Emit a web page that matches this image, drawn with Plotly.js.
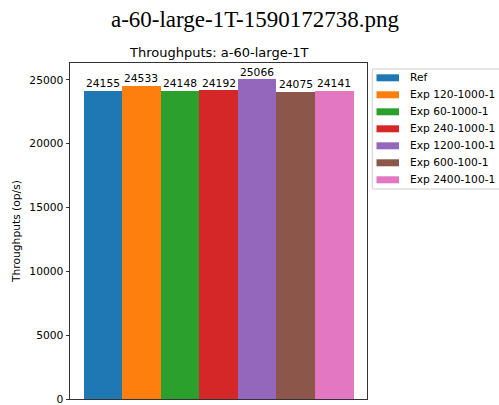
<!DOCTYPE html>
<html>
<head>
<meta charset="utf-8">
<script src="https://cdn.plot.ly/plotly-3.0.1.min.js"></script>
<style>
  html, body { margin: 0; padding: 0; background: #fff; }
  #chart { width: 499px; height: 405px; }
</style>
</head>
<body>
<div id="chart"></div>
<script>
// Throughput per run configuration
const seriesNames = ["Ref", "Exp 120-1000-1", "Exp 60-1000-1", "Exp 240-1000-1",
                     "Exp 1200-100-1", "Exp 600-100-1", "Exp 2400-100-1"];
const throughputs = [24155, 24533, 24148, 24192, 25066, 24075, 24141];
const colors = ["#1f77b4", "#ff7f0e", "#2ca02c", "#d62728", "#9467bd", "#8c564b", "#e377c2"];
const yTicks = [0, 5000, 10000, 15000, 20000, 25000];

const W = 499, H = 405;
const M = { l: 70, r: 132, t: 63, b: 6 };
const plotW = W - M.l - M.r, plotH = H - M.t - M.b;
// pixel -> paper coordinate helpers for the legend box
const px = v => (v - M.l) / plotW;
const py = v => (H - M.b - v) / plotH;

const FONT = "DejaVu Sans";
const FS = 10.7;

const traces = seriesNames.map((name, i) => ({
  type: "bar",
  name: name,
  x: [i],
  y: [throughputs[i]],
  width: 1,
  marker: { color: colors[i], line: { width: 0 } },
  hoverinfo: "skip",
  showlegend: false
}));

const maxVal = Math.max(...throughputs);
const n = seriesNames.length;

const annotations = [{
  text: "Throughputs: a-60-large-1T",
  xref: "paper", yref: "paper", x: 0.5, y: 1,
  xanchor: "center", yanchor: "bottom", yshift: 1,
  showarrow: false,
  font: { family: FONT, size: 13, color: "#000" }
}];

// value labels just above each bar
throughputs.forEach((v, i) => {
  annotations.push({
    text: String(v), xref: "x", yref: "y", x: i, y: v,
    xanchor: "center", yanchor: "bottom", yshift: -1.5,
    showarrow: false, font: { family: FONT, size: FS, color: "#000" }
  });
});

// legend: framed box outside the axes, one swatch + label per series
const legTop = 69, legLeft = 372.3, legBottom = 189, rowH = 17, firstRow = 77.8;
const shapes = [{
  type: "rect", xref: "paper", yref: "paper",
  x0: px(legLeft), x1: px(W + 10), y0: py(legBottom), y1: py(legTop),
  line: { color: "#d0d0d0", width: 1 }, fillcolor: "rgba(255,255,255,0.8)", layer: "above"
}];
seriesNames.forEach((name, i) => {
  const cy = firstRow + i * rowH;
  shapes.push({
    type: "rect", xref: "paper", yref: "paper",
    x0: px(376.5), x1: px(399), y0: py(cy + 3.5), y1: py(cy - 3.5),
    line: { width: 0 }, fillcolor: colors[i], layer: "above"
  });
  annotations.push({
    text: name, xref: "paper", yref: "paper",
    x: px(407.5), y: py(cy), xanchor: "left", yanchor: "middle",
    showarrow: false, font: { family: FONT, size: FS, color: "#000" }
  });
});

const layout = {
  width: W,
  height: H,
  margin: M,
  paper_bgcolor: "#fff",
  plot_bgcolor: "#fff",
  font: { family: FONT, size: FS, color: "#000" },
  title: {
    text: "a-60-large-1T-1590172738.png",
    font: { family: "Liberation Serif", size: 23, color: "#000" },
    x: 0.511, xref: "container", xanchor: "center",
    y: 1, yref: "container", yanchor: "top", pad: { t: 11 }
  },
  showlegend: false,
  bargap: 0,
  xaxis: {
    range: [-0.5 - 0.05 * n, n - 0.5 + 0.05 * n],
    showticklabels: false,
    ticks: "",
    showgrid: false,
    zeroline: false,
    showline: true, mirror: true, linecolor: "#333", linewidth: 1
  },
  yaxis: {
    range: [0, maxVal * 1.05],
    tickvals: yTicks,
    ticktext: yTicks.map(String),
    ticks: "outside", ticklen: 3.5, tickwidth: 1, tickcolor: "#333",
    tickfont: { family: FONT, size: FS, color: "#000" },
    ticklabeloverflow: "allow",
    showgrid: false,
    zeroline: false,
    showline: true, mirror: true, linecolor: "#333", linewidth: 1,
    title: { text: "Throughputs (op/s)", font: { family: FONT, size: FS, color: "#000" }, standoff: 6 }
  },
  shapes: shapes,
  annotations: annotations
};

Plotly.newPlot("chart", traces, layout, { displayModeBar: false, staticPlot: true });
</script>
</body>
</html>
